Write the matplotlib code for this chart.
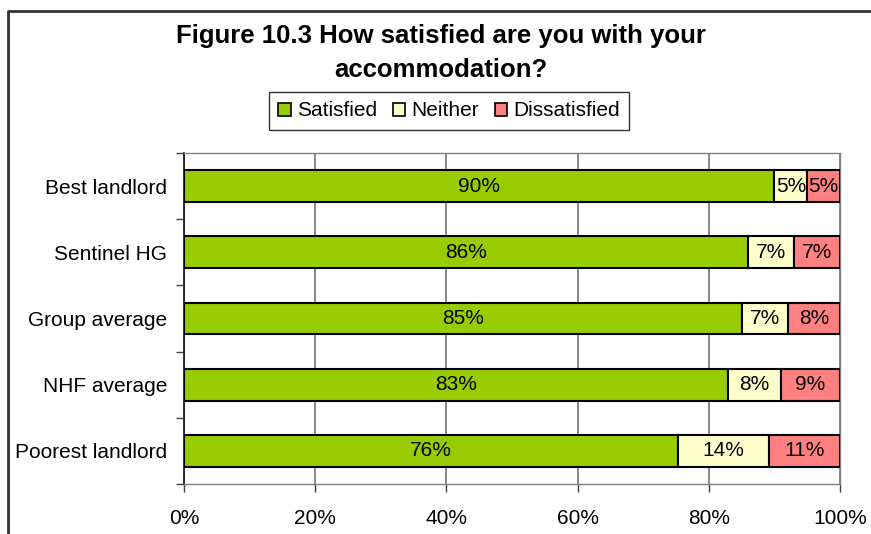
import matplotlib
matplotlib.use("Agg")
import matplotlib.pyplot as plt
import numpy as np
from matplotlib.lines import Line2D
from matplotlib.patches import Patch

plt.rcParams['font.family'] = ['Liberation Sans', 'DejaVu Sans']

categories = ["Best landlord", "Sentinel HG", "Group average", "NHF average", "Poorest landlord"]
satisfied = [90, 86, 85, 83, 76]
neither = [5, 7, 7, 8, 14]
dissatisfied = [5, 7, 8, 9, 11]
series_names = ["Satisfied", "Neither", "Dissatisfied"]
colors = ["#99CC00", "#FFFFCC", "#FF8080"]
xtick_labels = ["0%", "20%", "40%", "60%", "80%", "100%"]
title = "Figure 10.3 How satisfied are you with your\naccommodation?"

fig = plt.figure(figsize=(8.71, 5.34), dpi=100)
ax = fig.add_axes([184/871, 1-484/534, (840-184)/871, (484-153)/534])

data = np.array([satisfied, neither, dissatisfied], dtype=float)
totals = data.sum(axis=0)
shares = data / totals  # 100% stacked
y = np.arange(len(categories))
left = np.zeros(len(categories))
for i, name in enumerate(series_names):
    ax.barh(y, shares[i], left=left, height=0.48, color=colors[i],
            edgecolor="black", linewidth=1.5, label=name, zorder=3)
    for j in range(len(categories)):
        ax.text(left[j] + shares[i][j] / 2, y[j], f"{int(data[i][j])}%",
                ha="center", va="center", fontsize=15, zorder=4)
    left += shares[i]

ax.set_xlim(0, 1)
ax.set_ylim(len(categories) - 0.5, -0.5)
ax.set_xticks(np.linspace(0, 1, 6))
ax.set_xticklabels(xtick_labels, fontsize=15)
ax.set_yticks(y)
ax.set_yticklabels(categories, fontsize=15)
ax.set_yticks(np.arange(-0.5, len(categories)), minor=True)
ax.tick_params(axis="y", which="major", length=0, pad=12)
ax.tick_params(axis="y", which="minor", length=6, width=1, color="#404040")
ax.tick_params(axis="x", which="major", length=6, width=1, color="#404040", pad=12)
ax.xaxis.grid(True, color="#808080", linewidth=1.3, zorder=0)
for side in ["top", "right", "bottom"]:
    ax.spines[side].set_color("#808080")
    ax.spines[side].set_linewidth(1)
ax.spines["left"].set_color("#202020")
ax.spines["left"].set_linewidth(1.3)

fig.text(441/871, 1-53/534, title, ha="center", va="center", fontsize=18.5,
         fontweight="bold", linespacing=1.5)

handles = [Patch(facecolor=c, edgecolor="black", linewidth=1.2) for c in colors]
leg = fig.legend(handles, series_names, loc="center", bbox_to_anchor=(449/871, 1-111/534),
                 ncol=3, fontsize=15, frameon=True, fancybox=False, edgecolor="black",
                 handlelength=0.6, handleheight=0.6, handletextpad=0.3,
                 columnspacing=0.75, borderpad=0.45, borderaxespad=0)
leg.get_frame().set_linewidth(1)

fig.add_artist(Line2D([8/871, 8/871, 1], [0, 1-11/534, 1-11/534],
                      transform=fig.transFigure, color="#333333", linewidth=2))

fig.savefig("out.png", dpi=100)
